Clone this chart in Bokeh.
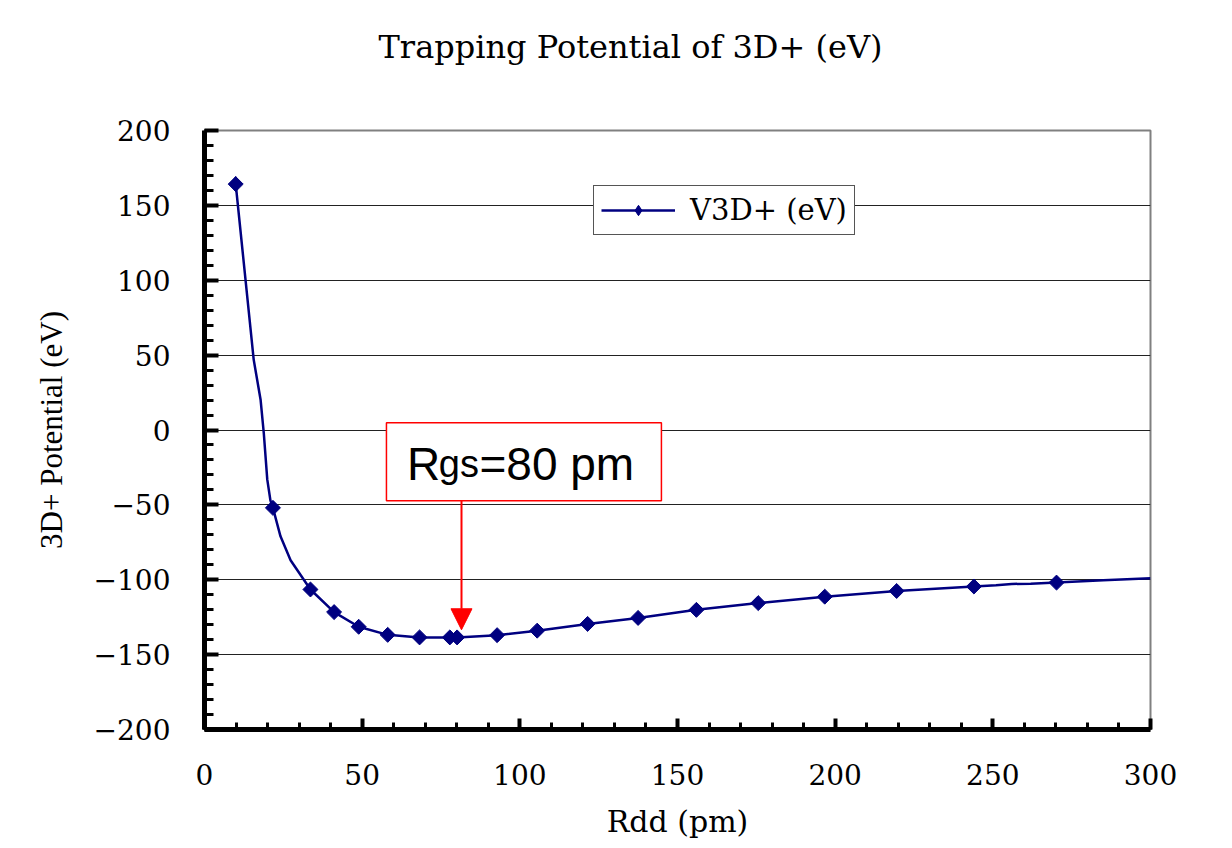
from bokeh.plotting import figure
from bokeh.models import (FixedTicker, Legend, LegendItem, BoxAnnotation, Arrow,
                          NormalHead, Label, Range1d, Title)
from bokeh.embed import file_html
from bokeh.resources import INLINE

# ---- data ----
marker_rdd = [9.9, 21.7, 33.6, 41.1, 48.9, 58.1, 68.2, 77.8, 80.1, 92.8, 105.5,
              121.5, 137.5, 156.0, 175.6, 196.7, 219.5, 244.0, 270.2]
marker_v = [164.2, -52.0, -106.5, -121.6, -131.4, -136.8, -138.5, -138.5, -138.5,
            -137.0, -134.0, -129.5, -125.5, -120.1, -115.6, -111.3, -107.5, -104.5, -101.9]

line_rdd = [9.9, 15.6, 17.8, 18.8, 19.9, 20.9, 21.7, 24.1, 27.3, 33.6, 41.1, 48.9,
            58.1, 68.2, 77.8, 80.1, 92.8, 105.5, 121.5, 137.5, 156.0, 175.6, 196.7,
            219.5, 244.0, 251.0, 256.0, 262.0, 270.2, 285.0, 300.0]
line_v = [164.2, 47.0, 20.0, -2.0, -33.0, -47.0, -52.0, -71.0, -87.0, -106.5, -121.6,
          -131.4, -136.8, -138.5, -138.5, -138.5, -137.0, -134.0, -129.5, -125.5,
          -120.1, -115.6, -111.3, -107.5, -104.5, -103.6, -102.8, -102.6, -101.9,
          -100.4, -99.0]

x_ticks = [0, 50, 100, 150, 200, 250, 300]
x_tick_labels = ["0", "50", "100", "150", "200", "250", "300"]
y_ticks = [-200, -150, -100, -50, 0, 50, 100, 150, 200]
y_tick_labels = ["\u2212200", "\u2212150", "\u2212100", "\u221250", "0", "50", "100", "150", "200"]

title_text = "Trapping Potential of 3D+ (eV)"
x_label = "Rdd (pm)"
y_label = "3D+ Potential (eV)"
series_name = "V3D+ (eV)"

# annotation (Rgs = 80 pm)
rgs_box = dict(left=57.7, right=144.9, top=4.8, bottom=-47.3)
arrow_x = 81.5
arrow_tip = -133.4

NAVY = "#000080"
SERIF = "DejaVu Serif"

p = figure(frame_width=946, frame_height=599,
           min_border_left=204, min_border_right=74,
           min_border_top=130, min_border_bottom=111,
           x_range=Range1d(0, 300), y_range=Range1d(-200, 200),
           output_backend="svg", toolbar_location=None,
           background_fill_color="white", border_fill_color="white")
p.title.visible = False

# spacer title (nearest the frame) and the real title above it
p.add_layout(Title(text=" ", text_font_size="10px", standoff=52), "above")
p.add_layout(Title(text=title_text, text_font=SERIF, text_font_size="32px",
                   text_font_style="normal", text_color="black",
                   align="left", offset=174, standoff=0, vertical_align="bottom"), "above")

# grid
p.xgrid.visible = False
yt = FixedTicker(ticks=y_ticks, minor_ticks=list(range(-200, 201, 10)))
xt = FixedTicker(ticks=x_ticks, minor_ticks=list(range(0, 301, 10)))
p.ygrid.ticker = yt
p.ygrid.grid_line_color = "#222222"
p.ygrid.grid_line_width = 1
p.outline_line_color = "#808080"
p.outline_line_width = 2

# axes
for ax in (p.xaxis[0], p.yaxis[0]):
    ax.axis_line_width = 5
    ax.axis_line_color = "black"
    ax.major_tick_out = 0
    ax.minor_tick_out = 0
    ax.major_tick_line_width = 4
    ax.minor_tick_line_width = 3
    ax.major_tick_line_color = "black"
    ax.minor_tick_line_color = "black"
    ax.major_label_text_font = SERIF
    ax.major_label_text_font_size = "28px"
    ax.major_label_text_color = "black"
    ax.axis_label_text_font_style = "normal"
    ax.axis_label_text_color = "black"

p.xaxis.ticker = xt
p.yaxis.ticker = yt
p.xaxis.major_label_overrides = {t: s for t, s in zip(x_ticks, x_tick_labels)}
p.yaxis.major_label_overrides = {t: s for t, s in zip(y_ticks, y_tick_labels)}
p.xaxis.major_tick_in = 11
p.xaxis.minor_tick_in = 7
p.yaxis.major_tick_in = 14
p.yaxis.minor_tick_in = 9
p.xaxis.major_label_standoff = 34
p.yaxis.major_label_standoff = 34

p.xaxis.axis_label = x_label
p.xaxis.axis_label_text_font = SERIF
p.xaxis.axis_label_text_font_size = "30px"
p.xaxis.axis_label_standoff = 16
p.yaxis.axis_label = y_label
p.yaxis.axis_label_text_font = "Liberation Serif"
p.yaxis.axis_label_text_font_size = "31px"
p.yaxis.axis_label_standoff = 22

# data
line_r = p.line(line_rdd, line_v, line_color=NAVY, line_width=2.5)
mark_r = p.scatter(marker_rdd, marker_v, marker="square", angle=0.7853981634,
                   size=10.6, fill_color=NAVY, line_color=NAVY)
# diamond used for the legend swatch (sits inside the first marker on the plot)
legend_mark = p.scatter(marker_rdd[:1], marker_v[:1], marker="diamond", size=15,
                        fill_color=NAVY, line_color=NAVY)

legend = Legend(items=[LegendItem(label=series_name, renderers=[line_r, legend_mark])],
                location=(389, 494), orientation="vertical",
                border_line_color="#555555", border_line_width=1.5, border_line_alpha=1.0,
                background_fill_color="white", background_fill_alpha=1.0,
                label_text_font=SERIF, label_text_font_size="29px", label_text_color="black",
                glyph_width=74, glyph_height=26, label_height=26,
                padding=7, label_standoff=15, margin=0, spacing=0)
p.add_layout(legend)

# annotation
p.add_layout(BoxAnnotation(fill_color="white", fill_alpha=1.0, line_color="red",
                           line_alpha=1.0, line_width=1.5, level="overlay", **rgs_box))
p.add_layout(Arrow(end=NormalHead(size=21, fill_color="red", line_color="red"),
                   x_start=arrow_x, y_start=rgs_box["bottom"], x_end=arrow_x,
                   y_end=arrow_tip, line_color="red", line_width=2, level="overlay"))
base_y = -22.6
for txt, xpos, fs in (("R", 64.2, "46px"), ("gs", 74.3, "38px"), ("=80 pm", 87.2, "46px")):
    p.add_layout(Label(x=xpos, y=base_y, text=txt, text_font="Liberation Sans",
                       text_font_size=fs, text_baseline="alphabetic",
                       text_color="black", level="overlay"))

open("out.html", "w").write(file_html(p, INLINE))
